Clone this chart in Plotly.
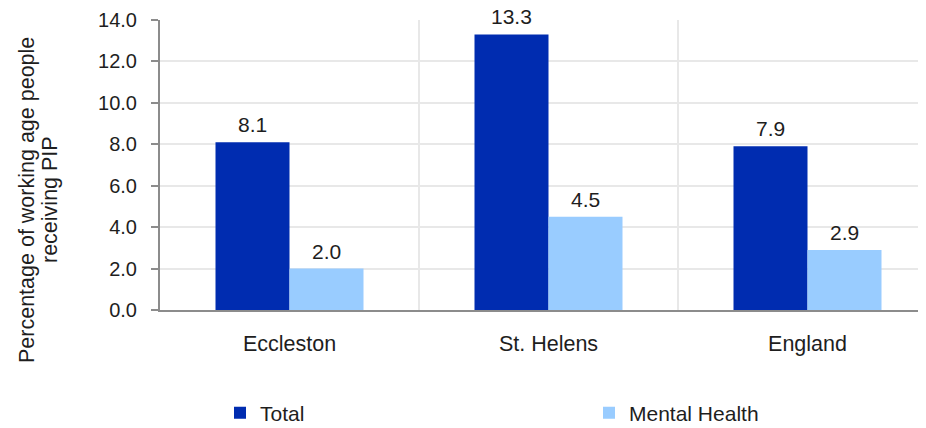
import plotly.graph_objects as go

categories = ["Eccleston", "St. Helens", "England"]
total_values = [8.1, 13.3, 7.9]
mental_values = [2.0, 4.5, 2.9]
y_tick_values = [0, 2, 4, 6, 8, 10, 12, 14]
title_line1 = "Percentage of working age people"
title_line2 = "receiving PIP"

FONT = "Liberation Sans, Arial, sans-serif"
TXT = "#1e1e1e"
W, H = 926, 428
OFF = 8  # page body margin offset
ML, MT = 160 - OFF, 20 - OFF
MB = H - (310 - OFF)
plot_w = W - ML
plot_h = H - MT - MB
cat_px = 259.0
BAR_HALF = 37

fig = go.Figure()
fig.add_trace(go.Bar(
    name="Total", x=categories, y=total_values,
    marker=dict(color="#002CB0", line=dict(width=0)),
    cliponaxis=False, legend="legend",
))
fig.add_trace(go.Bar(
    name="Mental Health", x=categories, y=mental_values,
    marker=dict(color="#99CCFF", line=dict(width=0)),
    cliponaxis=False, legend="legend2",
))

# value labels above bars
for vals, shift in ((total_values, -BAR_HALF), (mental_values, BAR_HALF)):
    for c, v in zip(categories, vals):
        fig.add_annotation(x=c, y=v, xref="x", yref="y", text=f"{v:.1f}",
                           xshift=shift, yshift=5, xanchor="center", yanchor="bottom",
                           showarrow=False, borderpad=0,
                           font=dict(family=FONT, size=21, color=TXT))

def ypaper(py):
    return (H - MB - (py - OFF)) / plot_h

def xpaper(px):
    return (px - OFF - ML) / plot_w

fig.add_annotation(text=title_line1, textangle=-90, xref="paper", yref="paper",
                   x=xpaper(27), y=ypaper(200), xanchor="center", yanchor="middle",
                   showarrow=False, font=dict(family=FONT, size=21.5, color=TXT))
fig.add_annotation(text=title_line2, textangle=-90, xref="paper", yref="paper",
                   x=xpaper(50), y=ypaper(200), xanchor="center", yanchor="middle",
                   showarrow=False, font=dict(family=FONT, size=21.5, color=TXT))

legend_common = dict(orientation="h", xanchor="left", yanchor="middle",
                     font=dict(family=FONT, size=21, color=TXT),
                     bgcolor="rgba(0,0,0,0)", borderwidth=0)

fig.update_layout(
    width=W, height=H,
    margin=dict(l=ML, r=0, t=MT, b=MB, pad=0, autoexpand=False),
    paper_bgcolor="white", plot_bgcolor="white",
    barmode="group", bargap=0.4286, bargroupgap=0,
    font=dict(family=FONT, size=21, color=TXT),
    showlegend=True,
    legend=dict(x=xpaper(220), y=ypaper(413), **legend_common),
    legend2=dict(x=xpaper(589), y=ypaper(413), **legend_common),
    xaxis=dict(
        type="category",
        range=[-0.5, -0.5 + plot_w / cat_px],
        tickson="boundaries", showgrid=True, gridcolor="#e8e8e8", gridwidth=1.5,
        showline=True, linecolor="#8c8c8c", linewidth=2,
        ticks="", ticklabelstandoff=13,
        tickfont=dict(family=FONT, size=21.5, color=TXT),
        fixedrange=True,
    ),
    yaxis=dict(
        range=[0, 14], tickmode="array", tickvals=y_tick_values,
        tickformat=".1f",
        showgrid=True, gridcolor="#e8e8e8", gridwidth=1.5,
        zeroline=False,
        showline=True, linecolor="#8c8c8c", linewidth=2,
        ticks="outside", ticklen=7, tickcolor="#8c8c8c", tickwidth=1.5,
        ticklabelstandoff=10,
        tickfont=dict(family=FONT, size=20, color=TXT),
        fixedrange=True,
    ),
)

fig.write_html("out.html")
